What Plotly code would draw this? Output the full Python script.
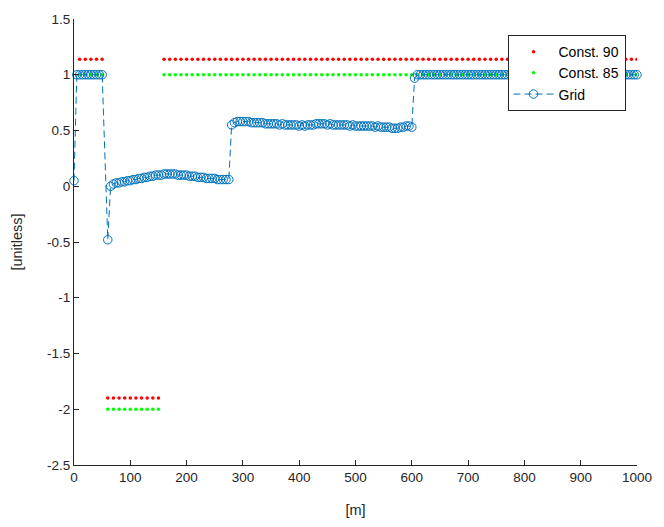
import plotly.graph_objects as go

# ---- data -----------------------------------------------------------------
# Grid response, sampled every 5 m (no sample at 55 m)
grid_x_a = [0, 5, 10, 15, 20, 25, 30, 35, 40, 45, 50]
grid_y_a = [0.05, 1.00, 1.00, 1.00, 1.00, 1.00, 1.00, 1.00, 1.00, 1.00, 1.00]

grid_x_b = list(range(60, 280, 5))
grid_y_b = [-0.48,
            0.00, 0.02, 0.03, 0.03, 0.04, 0.04, 0.05, 0.05, 0.06, 0.06,
            0.07, 0.07, 0.08, 0.08, 0.09, 0.09, 0.10, 0.10, 0.10, 0.11,
            0.11, 0.11, 0.11, 0.11, 0.10, 0.10, 0.10, 0.10, 0.09, 0.09,
            0.09, 0.08, 0.08, 0.08, 0.07, 0.07, 0.07, 0.07, 0.06, 0.06,
            0.06, 0.06, 0.06]

grid_x_c = list(range(280, 605, 5))
grid_y_c = [0.55, 0.57, 0.58, 0.58, 0.58, 0.58, 0.58, 0.57, 0.57, 0.57,
            0.57, 0.57, 0.56, 0.56, 0.56, 0.56, 0.56, 0.55, 0.56, 0.55,
            0.55, 0.55, 0.55, 0.55, 0.54, 0.55, 0.54, 0.55, 0.55, 0.55,
            0.56, 0.56, 0.56, 0.56, 0.55, 0.56, 0.55, 0.55, 0.55, 0.55,
            0.55, 0.55, 0.54, 0.55, 0.54, 0.54, 0.54, 0.54, 0.54, 0.54,
            0.54, 0.53, 0.54, 0.53, 0.53, 0.53, 0.53, 0.52, 0.52, 0.52,
            0.53, 0.53, 0.54, 0.54, 0.53]

grid_x_d = list(range(605, 1005, 5))
grid_y_d = [0.97] + [1.00] * 79

# Constant reference levels, one sample every 10 m
const_x = list(range(10, 1010, 10))
const90_y = [1.14] * 5 + [-1.90] * 10 + [1.14] * 85
const85_y = [1.00] * 5 + [-2.00] * 10 + [1.00] * 85

x_tick_vals = [0, 100, 200, 300, 400, 500, 600, 700, 800, 900, 1000]
x_tick_text = ["0", "100", "200", "300", "400", "500", "600", "700", "800", "900", "1000"]
y_tick_vals = [-2.5, -2, -1.5, -1, -0.5, 0, 0.5, 1, 1.5]
y_tick_text = ["-2.5", "-2", "-1.5", "-1", "-0.5", "0", "0.5", "1", "1.5"]

grid_x = grid_x_a + grid_x_b + grid_x_c + grid_x_d
grid_y = grid_y_a + grid_y_b + grid_y_c + grid_y_d
assert len(grid_x) == len(grid_y)
assert len(const_x) == len(const90_y) == len(const85_y)

# ---- figure ---------------------------------------------------------------
AX = "#262626"
FONT = "Liberation Sans, Arial, sans-serif"

fig = go.Figure()
fig.add_trace(go.Scatter(
    x=const_x, y=const90_y, mode="markers", name="Const. 90",
    marker=dict(color="#ff0000", size=3.5, line=dict(width=0)),
    legendgroup="a"))
fig.add_trace(go.Scatter(
    x=const_x, y=const85_y, mode="markers", name="Const. 85",
    marker=dict(color="#00ff00", size=3.5, line=dict(width=0)),
    legendgroup="b"))
fig.add_trace(go.Scatter(
    x=grid_x, y=grid_y, mode="lines+markers", name="Grid",
    line=dict(color="#0072bd", width=1, dash="7px,4px"),
    marker=dict(symbol="circle-open", size=8.5, color="#0072bd",
                line=dict(width=1, color="#0072bd")),
    cliponaxis=False,
    legendgroup="c"))

fig.update_layout(
    width=664, height=527,
    margin=dict(l=74, r=20, t=18, b=61),
    paper_bgcolor="white", plot_bgcolor="white",
    font=dict(family=FONT, size=13.5, color=AX),
    showlegend=True,
    legend=dict(
        x=0.77, y=0.964, xanchor="left", yanchor="top",
        bgcolor="white", bordercolor=AX, borderwidth=1,
        font=dict(family=FONT, size=14, color="black"),
        itemwidth=40,
        traceorder="grouped", tracegroupgap=0,
    ),
)
fig.update_xaxes(
    range=[0, 1000], tickvals=x_tick_vals, ticktext=x_tick_text,
    showline=True, linecolor=AX, linewidth=1, mirror=False,
    ticks="inside", ticklen=5, tickcolor=AX,
    showgrid=False, zeroline=False,
    title=dict(text="[m]", standoff=20, font=dict(size=14.5)),
)
fig.update_yaxes(
    range=[-2.5, 1.5], tickvals=y_tick_vals, ticktext=y_tick_text,
    showline=True, linecolor=AX, linewidth=1, mirror=False,
    ticks="inside", ticklen=5, tickcolor=AX,
    showgrid=False, zeroline=False,
    title=dict(text="[unitless]", standoff=20, font=dict(size=14.5)),
)

fig.write_html("out.html")
